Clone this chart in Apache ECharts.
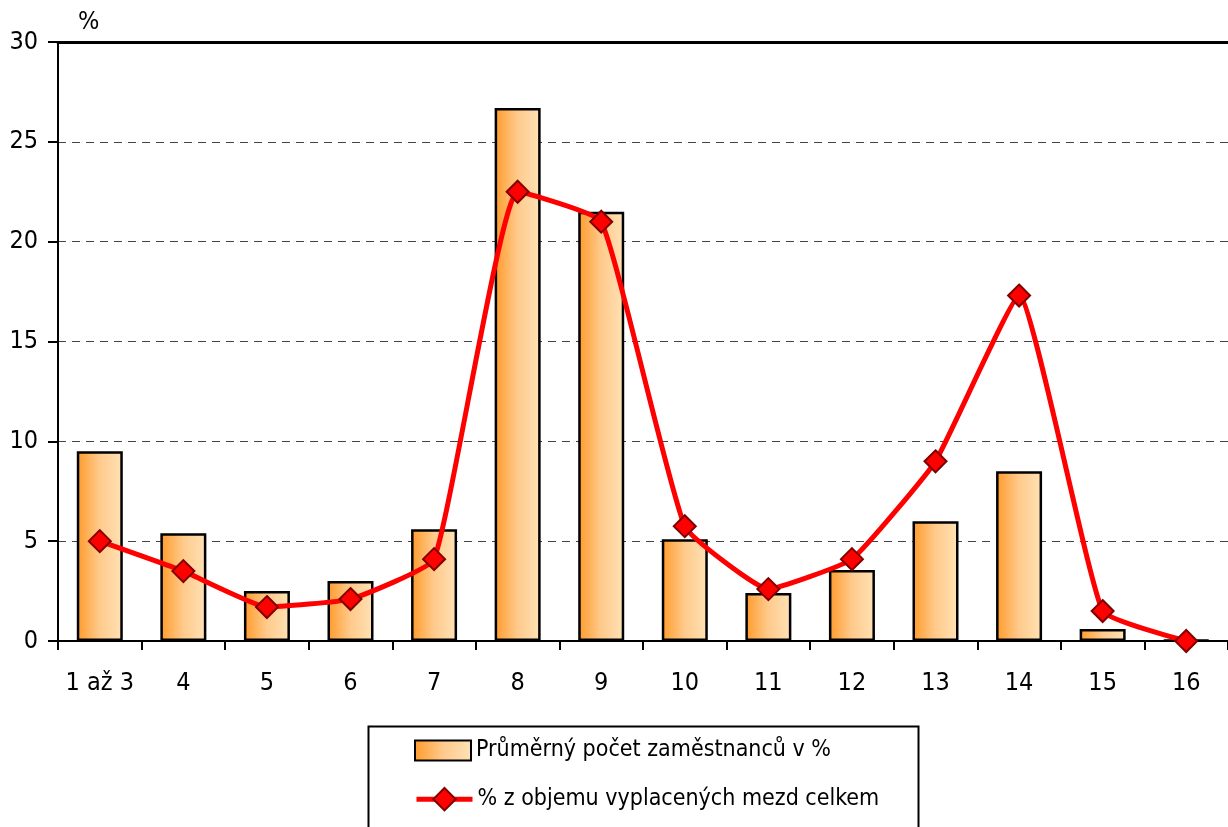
<!DOCTYPE html>
<html>
<head>
<meta charset="utf-8">
<script src="https://cdn.jsdelivr.net/npm/echarts@6/dist/echarts.min.js"></script>
<style>
html,body{margin:0;padding:0;background:#fff;}
#chart{width:1228px;height:827px;}
</style>
</head>
<body>
<div id="chart"></div>
<script>
var categories = ['1 až 3','4','5','6','7','8','9','10','11','12','13','14','15','16'];
var employees = [9.5, 5.4, 2.5, 3.0, 5.6, 26.7, 21.5, 5.1, 2.4, 3.55, 6.0, 8.5, 0.6, 0.05];
var wages = [5.0, 3.5, 1.7, 2.1, 4.1, 22.5, 21.0, 5.75, 2.6, 4.1, 9.0, 17.3, 1.5, 0.0];
var yTicks = [0, 5, 10, 15, 20, 25, 30];
var seriesNames = ['Průměrný počet zaměstnanců v %', '% z objemu vyplacených mezd celkem'];

function pickFont(list) {
  var c = document.createElement('canvas').getContext('2d');
  var sample = 'Průměrný počet 1234567890';
  c.font = '40px monospace';
  var base = c.measureText(sample).width;
  for (var i = 0; i < list.length; i++) {
    c.font = '40px "' + list[i] + '", monospace';
    if (Math.abs(c.measureText(sample).width - base) > 0.5) return list[i];
  }
  return 'sans-serif';
}
var FONT = pickFont(['Liberation Sans Narrow', 'Arial Narrow', 'DejaVu Sans Condensed', 'Liberation Sans']);
var FS = 25;
var LFS = 23;

var chart = echarts.init(document.getElementById('chart'));
var barGradient = new echarts.graphic.LinearGradient(0, 0, 1, 0, [
  {offset: 0, color: '#ff9a2a'},
  {offset: 0.5, color: '#ffca8c'},
  {offset: 1, color: '#ffe2b6'}
]);
chart.setOption({
  animation: false,
  backgroundColor: '#fff',
  textStyle: {fontFamily: FONT},
  grid: {left: 58, top: 42, width: 1180, height: 599, containLabel: false},
  graphic: [{
    type: 'rect',
    left: 366,
    top: 724,
    shape: {width: 550, height: 130},
    style: {fill: 'none', stroke: '#000', lineWidth: 2},
    silent: true,
    z: 0
  }],
  legend: [{
    orient: 'vertical',
    left: 414,
    top: 739,
    padding: 0,
    itemWidth: 56,
    itemHeight: 20,
    itemGap: 8,
    textStyle: {fontFamily: FONT, fontSize: LFS, color: '#000'},
    data: [{name: seriesNames[0], icon: 'rect'}]
  }, {
    orient: 'vertical',
    left: 414,
    top: 787,
    padding: 0,
    itemWidth: 56,
    itemHeight: 28,
    itemGap: 8,
    textStyle: {fontFamily: FONT, fontSize: LFS, color: '#000'},
    data: [{name: seriesNames[1], lineStyle: {width: 5, color: '#ff0000'}}]
  }],
  xAxis: [{
    type: 'category',
    data: categories,
    boundaryGap: true,
    axisLine: {lineStyle: {color: '#000', width: 2}},
    axisTick: {show: true, length: 9, inside: false, lineStyle: {color: '#000', width: 2}},
    axisLabel: {interval: 0, fontFamily: FONT, fontSize: FS, color: '#000', margin: 30},
    splitLine: {show: false}
  }, {
    type: 'category',
    data: categories,
    position: 'top',
    z: 10,
    axisLine: {show: true, lineStyle: {color: '#000', width: 3}},
    axisTick: {show: false},
    axisLabel: {show: false},
    splitLine: {show: false}
  }],
  yAxis: {
    type: 'value',
    min: yTicks[0],
    max: yTicks[yTicks.length - 1],
    interval: 5,
    name: '%',
    nameLocation: 'end',
    nameGap: 7,
    nameTextStyle: {fontFamily: FONT, fontSize: FS, color: '#000', align: 'left', padding: [0, 0, 0, 20]},
    axisLine: {show: true, lineStyle: {color: '#000', width: 2}},
    axisTick: {show: true, length: 10, lineStyle: {color: '#000', width: 2}},
    axisLabel: {fontFamily: FONT, fontSize: FS, color: '#000', margin: 20},
    splitLine: {show: true, lineStyle: {color: '#444', width: 1, type: [8, 6]}}
  },
  series: [{
    name: seriesNames[0],
    type: 'bar',
    data: employees,
    barWidth: 46,
    itemStyle: {color: barGradient, borderColor: '#000', borderWidth: 2.5},
    z: 2
  }, {
    name: seriesNames[1],
    type: 'line',
    data: wages,
    smooth: 0.12,
    symbol: 'diamond',
    symbolSize: 22,
    lineStyle: {color: '#ff0000', width: 5},
    itemStyle: {color: '#ff0000', borderColor: '#800000', borderWidth: 2},
    z: 5
  }]
});
</script>
</body>
</html>
